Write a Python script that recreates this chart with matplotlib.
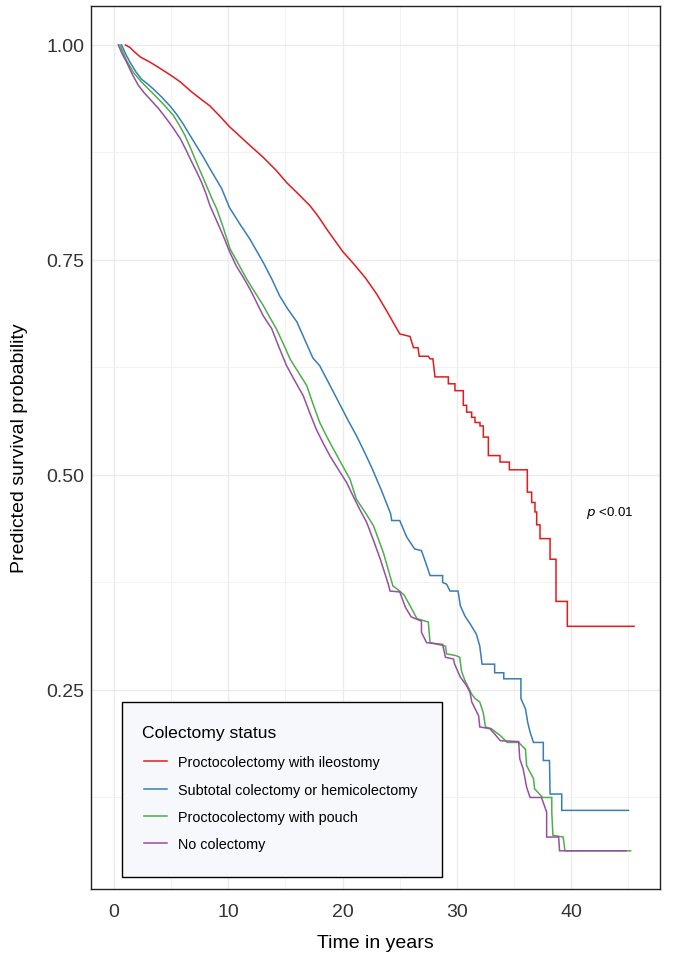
import matplotlib.pyplot as plt
from matplotlib.patches import Rectangle

plt.rcParams['font.family'] = ['Liberation Sans', 'DejaVu Sans']

# Kaplan-Meier curves (time in years, survival)
red_t = [1.0, 1.4, 1.7, 2.3, 3.15, 4.0, 5.05, 5.8, 6.65, 7.5, 8.4, 9.2, 10.1, 11.0, 11.9, 13.0, 14.2, 15.1,
         16.1, 17.15, 17.9, 18.6, 19.3, 20.0, 21.0, 22.0, 23.0, 23.8, 24.4, 25.0,
         25.9, 26.2, 26.6, 26.7, 27.5, 27.65, 27.9, 28.08, 29.25, 29.25, 29.83, 29.83, 30.56, 30.56, 30.85,
         30.85, 31.29, 31.29, 31.58, 31.58, 32.02, 32.02, 32.31, 32.31, 32.75, 32.75, 33.77, 33.77, 34.59,
         34.59, 36.16, 36.16, 36.54, 36.54, 36.83, 36.83, 36.98, 36.98, 37.27, 37.27, 38.15, 38.15, 38.67,
         38.67, 39.66, 39.66, 45.5]
red_s = [1.0, 0.997, 0.993, 0.986, 0.980, 0.973, 0.964, 0.957, 0.947, 0.938, 0.929, 0.918, 0.905, 0.894,
         0.883, 0.870, 0.854, 0.840, 0.827, 0.813, 0.800, 0.786, 0.773, 0.760, 0.745, 0.729, 0.710, 0.692,
         0.678, 0.664,
         0.661, 0.648, 0.648, 0.638, 0.638, 0.635, 0.635, 0.614, 0.614, 0.606, 0.606, 0.598,
         0.598, 0.581, 0.581, 0.573, 0.573, 0.567, 0.567, 0.561, 0.561, 0.557, 0.557, 0.544, 0.544, 0.5225,
         0.5225, 0.515, 0.515, 0.506, 0.506, 0.480, 0.480, 0.468, 0.468, 0.457, 0.457, 0.442, 0.442, 0.426,
         0.426, 0.402, 0.402, 0.353, 0.353, 0.324, 0.324]

blue_t = [0.67, 1.0, 1.4, 1.9, 2.42, 3.0, 3.59, 4.2, 4.9, 5.5, 6.06, 6.6, 7.2, 7.8, 8.4, 9.42, 10.1, 11.0, 11.9,
          13.06, 13.8, 14.5, 15.2, 16.0, 16.7, 17.4, 18.0, 18.9, 19.8, 20.5, 21.2, 21.9, 22.6, 23.4, 24.2,
          24.3, 25.0, 25.6, 26.3, 26.9, 27.35, 27.65, 28.75, 28.75, 29.1, 29.4, 30.1, 30.3,
          30.7, 31.15, 31.7, 32.0, 32.2, 33.3, 33.3, 34.1, 34.1, 35.6, 35.6, 36.0, 36.2, 36.4, 36.7, 37.56,
          37.56, 38.1, 38.15, 39.17, 39.17, 45.0]
blue_s = [1.0, 0.99, 0.98, 0.969, 0.960, 0.954, 0.947, 0.939, 0.929, 0.919, 0.908, 0.896, 0.883, 0.870, 0.856,
          0.833, 0.811, 0.792, 0.774, 0.747, 0.728, 0.708, 0.693, 0.678, 0.657, 0.636,
          0.627, 0.604, 0.581, 0.563, 0.546, 0.527, 0.507, 0.482, 0.455,
          0.447, 0.447, 0.428, 0.414, 0.412, 0.395, 0.383, 0.383, 0.375,
          0.373, 0.365, 0.365, 0.348, 0.336, 0.327, 0.315, 0.301, 0.280, 0.280, 0.270, 0.270, 0.263, 0.263,
          0.240, 0.228, 0.212, 0.201, 0.189, 0.189, 0.168, 0.168, 0.129, 0.129, 0.110, 0.110]

green_t = [0.52, 1.1, 1.7, 2.4, 3.0, 3.6, 4.4, 5.2, 5.7, 6.2, 6.7, 7.2, 7.65, 8.1, 8.55, 9.0, 9.6, 10.15, 10.9,
           11.6, 12.3, 13.06, 13.6, 14.2, 14.8, 15.4, 16.1, 16.86, 17.4, 18.0, 18.6, 19.2, 19.9,
           20.65, 21.2, 21.95, 22.7, 23.56, 24.4, 25.0, 25.4, 25.9, 26.5, 27.5, 27.65, 29.0, 29.1, 29.9, 30.25,
           30.4, 30.7, 31.0, 31.3, 31.6, 32.0, 32.3, 32.5, 33.0, 33.8, 34.4, 35.4, 36.0, 36.1, 36.7, 36.8,
           37.5, 38.3, 38.3, 38.4, 39.3, 39.45, 45.2]
green_s = [1.0, 0.982, 0.968, 0.957, 0.949, 0.941, 0.930, 0.918, 0.907, 0.895, 0.880, 0.864, 0.850, 0.836,
           0.822, 0.809, 0.786, 0.763, 0.745, 0.728, 0.713, 0.697, 0.684, 0.670, 0.653, 0.635, 0.620,
           0.604, 0.583, 0.561, 0.545, 0.530, 0.513, 0.495, 0.472, 0.457, 0.441, 0.410, 0.371, 0.365,
           0.360, 0.348, 0.333, 0.329, 0.305, 0.301, 0.292, 0.290, 0.288, 0.272, 0.261, 0.253, 0.245, 0.240,
           0.236, 0.224, 0.207, 0.205, 0.197, 0.189, 0.189, 0.181, 0.162, 0.147, 0.135, 0.125, 0.125, 0.108,
           0.081, 0.079, 0.063, 0.063]

purple_t = [0.38, 0.7, 1.1, 1.6, 2.13, 2.6, 3.15, 3.9, 4.6, 5.2, 5.8, 6.3, 6.8, 7.25, 7.67, 8.05, 8.4, 9.0,
            9.56, 10.1, 10.7, 11.3, 11.9, 12.5, 13.06, 13.8, 14.45, 15.1, 15.8, 16.56, 17.1, 17.7, 18.3,
            18.9, 19.6, 20.36, 20.9, 21.5, 22.1, 22.7, 23.3, 24.0, 24.15, 25.0, 25.5, 26.0, 26.9, 26.9,
            27.35, 28.75, 29.0, 29.7, 29.8, 30.3, 30.85, 31.15, 31.3, 31.6, 31.9, 32.0, 32.9, 33.8, 35.4,
            35.5, 35.8, 36.1, 36.4, 37.4, 37.85, 37.85, 38.9, 38.98, 44.8]
purple_s = [1.0, 0.99, 0.98, 0.966, 0.953, 0.945, 0.937, 0.926, 0.914, 0.903, 0.891, 0.878, 0.864, 0.852,
            0.840, 0.827, 0.813, 0.795, 0.778, 0.760, 0.743, 0.730, 0.716, 0.700, 0.685, 0.670, 0.648,
            0.627, 0.610, 0.592, 0.573, 0.553, 0.537, 0.522, 0.507, 0.491, 0.476, 0.460, 0.445, 0.424,
            0.402, 0.373, 0.365, 0.364, 0.346, 0.335, 0.330, 0.317, 0.305, 0.303, 0.288, 0.286, 0.280,
            0.265, 0.255, 0.247, 0.236, 0.228, 0.220, 0.207, 0.205, 0.191, 0.190, 0.170, 0.158, 0.137,
            0.125, 0.125, 0.108, 0.079, 0.079, 0.063, 0.063]

labels = ['Proctocolectomy with ileostomy', 'Subtotal colectomy or hemicolectomy',
          'Proctocolectomy with pouch', 'No colectomy']
colors = ['#E41A1C', '#377EB8', '#4DAF4A', '#984EA3']

fig = plt.figure(figsize=(6.92, 9.54), dpi=100)
ax = fig.add_axes([0.1315, 0.0671, 0.8223, 0.9256])

curves = [(red_t, red_s), (blue_t, blue_s), (green_t, green_s), (purple_t, purple_s)]
for (t, s), lab, col in zip(curves, labels, colors):
    ax.plot(t, s, color=col, lw=1.1, label=lab, solid_joinstyle='miter')

ax.set_xlim(-2.01, 47.77)
ax.set_ylim(0.0186, 1.0453)
ax.set_xticks([0, 10, 20, 30, 40])
ax.set_xticks([5, 15, 25, 35, 45], minor=True)
ax.set_yticks([0.25, 0.5, 0.75, 1.0])
ax.set_yticklabels(['0.25', '0.50', '0.75', '1.00'])
ax.set_yticks([0.125, 0.375, 0.625, 0.875], minor=True)
ax.grid(which='major', color='#ebebeb', lw=1.0)
ax.grid(which='minor', color='#f2f2f2', lw=0.7)
ax.set_axisbelow(True)
ax.tick_params(which='both', length=0, labelsize=14, labelcolor='#333333')
ax.tick_params(axis='x', pad=10)
ax.tick_params(axis='y', pad=5)
for sp in ax.spines.values():
    sp.set_color('#222222')
    sp.set_linewidth(1.0)

ax.set_xlabel('Time in years', fontsize=14, labelpad=10)
ax.set_ylabel('Predicted survival probability', fontsize=14, labelpad=13)

ax.text(43.4, 0.457, r'$\it{p}$ <0.01', fontsize=9.6, ha='center', va='center')

# legend box
ax.add_patch(Rectangle((0.055, 0.0133), 0.561, 0.198, transform=ax.transAxes,
                       facecolor='#f7f8fc', edgecolor='black', lw=1.0, zorder=5))
ax.text(0.0891, 0.1721, 'Colectomy status', transform=ax.transAxes, fontsize=12.6,
        va='baseline', ha='left', zorder=7)
leg = ax.legend(loc='center left', bbox_to_anchor=(0.0937, 0.0970), frameon=False,
                fontsize=10.4, borderpad=0, borderaxespad=0, handlelength=1.55,
                handletextpad=0.8, labelspacing=0.93)
leg.set_zorder(6)
for ln in leg.get_lines():
    ln.set_linewidth(1.1)

fig.savefig('out.png', dpi=100)
